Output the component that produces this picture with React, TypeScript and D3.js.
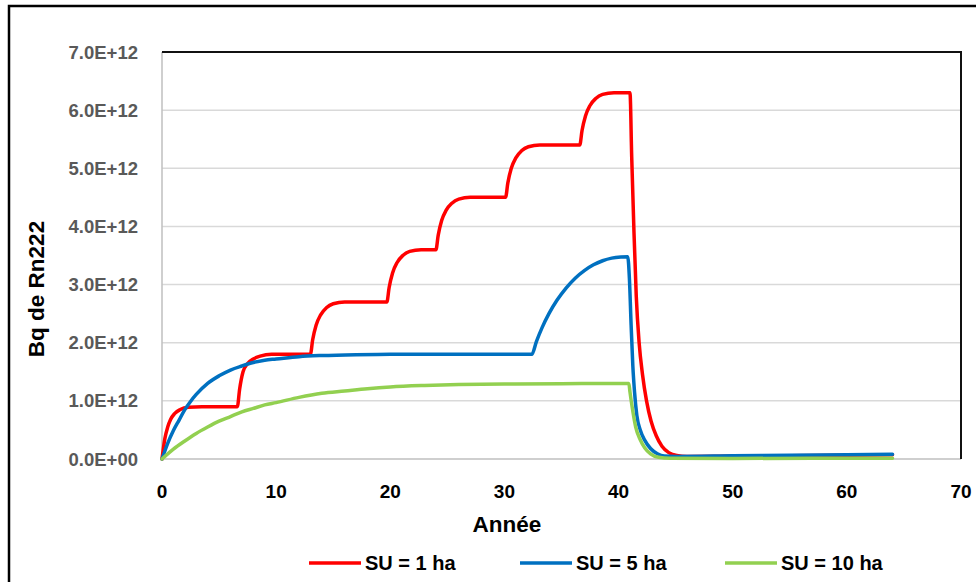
import React from "react";
import * as d3 from "d3";

// ---- Data (values in units of 1e12 Bq) ----
const redYears = [0, 0.25, 0.5, 0.75, 1.1, 1.6, 2.3, 3.5, 6.6, 6.8, 7.1, 7.5, 8.0, 8.6, 9.6, 13.0, 13.2, 13.5, 13.9, 14.4, 15.0, 16.0, 19.7, 19.9, 20.2, 20.6, 21.1, 21.7, 22.7, 24.0, 24.2, 24.5, 24.9, 25.4, 26.0, 27.0, 30.1, 30.3, 30.6, 31.0, 31.5, 32.1, 33.1, 36.6, 36.8, 37.1, 37.5, 38.0, 38.6, 39.6, 41.0, 41.15, 41.35, 41.55, 41.8, 42.1, 42.45, 42.85, 43.3, 43.8, 44.4, 45.1, 46.0, 50.0, 55.0, 60.0, 64.0];
const redValues = [0, 0.35, 0.55, 0.68, 0.78, 0.85, 0.89, 0.9, 0.9, 1.2, 1.5, 1.64, 1.72, 1.77, 1.8, 1.8, 2.05, 2.3, 2.48, 2.6, 2.67, 2.7, 2.7, 2.95, 3.2, 3.38, 3.5, 3.57, 3.6, 3.6, 3.85, 4.1, 4.28, 4.4, 4.47, 4.5, 4.5, 4.75, 5.0, 5.18, 5.3, 5.37, 5.4, 5.4, 5.65, 5.9, 6.08, 6.2, 6.27, 6.3, 6.3, 5.2, 3.9, 2.8, 2.0, 1.45, 1.0, 0.65, 0.4, 0.22, 0.11, 0.06, 0.045, 0.05, 0.058, 0.066, 0.073];

const blueYears = [0, 0.5, 1, 1.5, 2, 2.5, 3, 4, 5, 6, 7, 8, 9, 10, 12, 14, 17, 20, 32.4, 32.8, 33.3, 33.9, 34.6, 35.4, 36.2, 37.0, 37.8, 38.6, 39.4, 40.2, 40.8, 40.95, 41.1, 41.25, 41.4, 41.6, 41.9, 42.3, 42.8, 43.4, 44.0, 45.0, 50.0, 55.0, 60.0, 64.0];
const blueValues = [0, 0.27, 0.49, 0.67, 0.85, 0.99, 1.11, 1.3, 1.43, 1.53, 1.6, 1.66, 1.7, 1.72, 1.76, 1.78, 1.795, 1.8, 1.8, 2.02, 2.26, 2.5, 2.73, 2.94, 3.11, 3.24, 3.34, 3.41, 3.455, 3.475, 3.48, 3.1, 2.3, 1.6, 1.15, 0.75, 0.5, 0.32, 0.18, 0.09, 0.05, 0.045, 0.055, 0.065, 0.075, 0.082];

const greenYears = [0, 1, 2, 3, 4, 5, 6, 7, 8, 9, 10, 12, 14, 16, 18, 20, 23, 26, 30, 35, 40.9, 41.0, 41.2, 41.5, 41.9, 42.3, 42.8, 43.5, 44.5, 50.0, 57.0, 64.0];
const greenValues = [0, 0.17, 0.31, 0.44, 0.55, 0.65, 0.73, 0.81, 0.87, 0.93, 0.97, 1.06, 1.13, 1.17, 1.21, 1.24, 1.265, 1.28, 1.29, 1.295, 1.3, 1.15, 0.88, 0.55, 0.33, 0.19, 0.09, 0.03, 0.012, 0.01, 0.012, 0.015];

const seriesNames = ["SU = 1 ha", "SU = 5 ha", "SU = 10 ha"];
const seriesColors = ["#ff0000", "#0070c0", "#92d050"];

const yTickValues = [0, 1, 2, 3, 4, 5, 6, 7];
const yTickLabels = ["0.0E+00", "1.0E+12", "2.0E+12", "3.0E+12", "4.0E+12", "5.0E+12", "6.0E+12", "7.0E+12"];
const xTickValues = [0, 10, 20, 30, 40, 50, 60, 70];

const xTitle = "Année";
const yTitle = "Bq de Rn222";

const FONT = "'Liberation Sans', Arial, sans-serif";

export default function App() {
  const W = 976, H = 582;
  const left = 162, right = 961, top = 52, bottom = 459;
  const x = d3.scaleLinear().domain([0, 70]).range([left, right]);
  const y = d3.scaleLinear().domain([0, 7]).range([bottom, top]);

  const series = [
    { name: seriesNames[0], color: seriesColors[0], pts: redYears.map((t, i) => [t, redValues[i]] as [number, number]) },
    { name: seriesNames[1], color: seriesColors[1], pts: blueYears.map((t, i) => [t, blueValues[i]] as [number, number]) },
    { name: seriesNames[2], color: seriesColors[2], pts: greenYears.map((t, i) => [t, greenValues[i]] as [number, number]) },
  ];
  const line = d3
    .line<[number, number]>()
    .x((d) => x(d[0]))
    .y((d) => y(d[1]))
    .curve(d3.curveMonotoneX);

  const legendX = [309, 520, 725];
  const legendY = 563;

  return (
    <svg
      width={W}
      height={H}
      style={{ position: "absolute", left: 0, top: 0, background: "#fff" }}
      fontFamily={FONT}
    >
      <rect x={0} y={0} width={W} height={H} fill="#fff" />
      {/* outer frame */}
      <rect x={9} y={6} width={1000} height={1000} fill="none" stroke="#000" strokeWidth={2.5} />

      {/* gridlines */}
      {yTickValues.slice(1, -1).map((v) => (
        <line key={v} x1={left} x2={right} y1={y(v)} y2={y(v)} stroke="#d9d9d9" strokeWidth={1.5} />
      ))}
      {/* axes */}
      <line x1={left} x2={right} y1={bottom} y2={bottom} stroke="#bfbfbf" strokeWidth={1.5} />
      <line x1={left} x2={left} y1={top} y2={bottom} stroke="#bfbfbf" strokeWidth={1.5} />
      <line x1={left} x2={right + 1} y1={top} y2={top} stroke="#111" strokeWidth={2} />
      <line x1={right} x2={right} y1={top} y2={bottom} stroke="#111" strokeWidth={2} />

      {/* y tick labels */}
      {yTickValues.map((v, i) => (
        <text
          key={v}
          x={138}
          y={y(v)}
          textAnchor="end"
          dominantBaseline="central"
          fontSize={18.5}
          fontWeight="bold"
          fill="#595959"
        >
          {yTickLabels[i]}
        </text>
      ))}
      {/* x tick labels */}
      {xTickValues.map((v) => (
        <text key={v} x={x(v)} y={498} textAnchor="middle" fontSize={19} fontWeight="bold" fill="#000">
          {v}
        </text>
      ))}

      {/* titles */}
      <text x={507} y={532} textAnchor="middle" fontSize={22.5} fontWeight="bold" fill="#000">
        {xTitle}
      </text>
      <text
        transform="translate(36,289) rotate(-90)"
        textAnchor="middle"
        dominantBaseline="central"
        fontSize={22.5}
        fontWeight="bold"
        fill="#000"
      >
        {yTitle}
      </text>

      {/* series */}
      {series.map((s) => (
        <path
          key={s.name}
          d={line(s.pts) || ""}
          fill="none"
          stroke={s.color}
          strokeWidth={3.5}
          strokeLinejoin="round"
          strokeLinecap="round"
        />
      ))}

      {/* legend */}
      {series.map((s, i) => (
        <g key={s.name}>
          <line x1={legendX[i]} x2={legendX[i] + 52} y1={legendY} y2={legendY} stroke={s.color} strokeWidth={3.5} />
          <text x={legendX[i] + 56} y={570} fontSize={20} fontWeight="bold" fill="#000">
            {s.name}
          </text>
        </g>
      ))}
    </svg>
  );
}
